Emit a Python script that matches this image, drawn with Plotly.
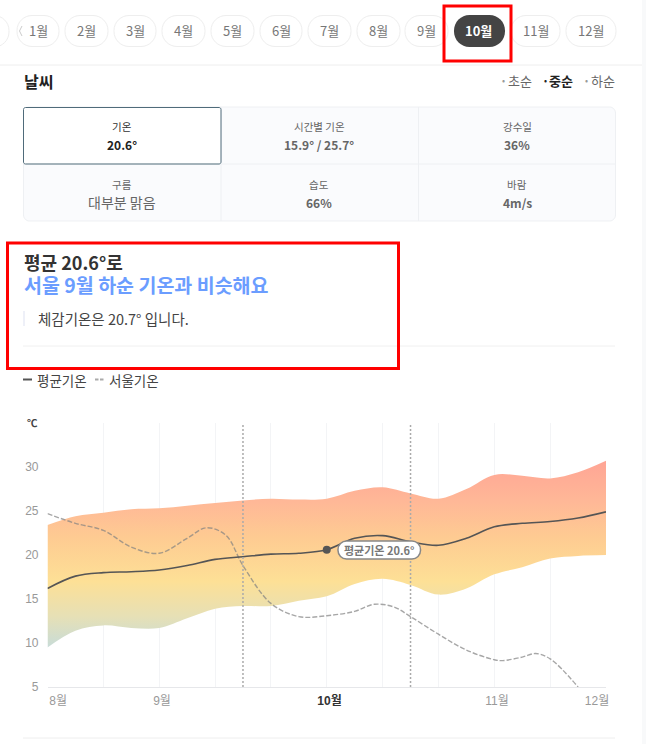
import plotly.graph_objects as go

FONT = "Noto Sans CJK KR"
NUM_FONT = "Liberation Sans, Noto Sans CJK KR"
W, H = 646, 744

# chart data, x is in half month-steps
x_half = [0, 0.5, 1, 1.5, 2, 2.5, 3, 3.5, 4, 4.5, 5, 5.5, 6, 6.5, 7, 7.5, 8, 8.5, 9, 9.5, 10]
temp_high = [23.4, 24.4, 24.8, 25.2, 25.3, 25.6, 25.9, 26.2, 26.4, 26.3, 26.4, 27.3, 27.7, 27.0, 26.4, 27.5, 29.1, 29.0, 28.7, 29.4, 30.7]
temp_low = [9.5, 11.4, 12.0, 11.7, 11.7, 12.8, 13.9, 14.2, 14.2, 14.8, 15.3, 16.7, 17.3, 16.6, 15.5, 16.2, 17.8, 18.6, 19.6, 19.9, 20.0]
temp_avg = [16.2, 17.6, 18.0, 18.1, 18.3, 18.8, 19.5, 19.8, 20.1, 20.2, 20.6, 21.9, 22.2, 21.5, 21.1, 21.9, 23.2, 23.6, 23.8, 24.2, 24.9]

x_seoul = [0, 0.5, 1, 1.5, 2, 2.5, 2.85, 3.2, 3.5, 4, 4.5, 5, 5.5, 5.85, 6.2, 6.5, 7, 7.5, 8, 8.15, 8.5, 8.74, 9, 9.5]
temp_seoul = [24.7, 23.6, 22.8, 20.9, 20.2, 21.9, 23.1, 22.2, 18.8, 14.5, 13.0, 13.1, 13.6, 14.4, 14.1, 13.0, 11.0, 9.2, 8.1, 8.0, 8.4, 8.8, 8.2, 5.0]

current_x = [5]
current_temp = [20.6]
range_lines = [3.5, 6.5]

y_ticks = [5, 10, 15, 20, 25, 30]
month_ticks = [0.19, 2.05, 5.05, 8.05, 9.84]
month_labels = ["8월", "9월", '<b><span style="color:#333">10월</span></b>', "11월", "12월"]

# page texts
pill_labels = ["1월", "2월", "3월", "4월", "5월", "6월", "7월", "8월", "9월", "10월", "11월", "12월"]
pill_left = [17, 65, 114, 162, 211, 260, 308, 357, 405, 454, 511, 566]
pill_right = [59, 108, 156, 205, 254, 302, 351, 400, 448, 505, 560, 616]
period_labels = ["초순", "중순", "하순"]
cell_titles = ["기온", "시간별 기온", "강수일", "구름", "습도", "바람"]
cell_values = ["20.6°", "15.9° / 25.7°", "36%", "대부분 맑음", "66%", "4m/s"]


def fx(x):
    return x / W


def fy(y):
    return 1 - y / H


def rounded(x0, y0, x1, y1, r):
    # rounded box as svg path, in paper units
    k = 0.45 * r
    p = [
        ("M", x0 + r, y0), ("L", x1 - r, y0),
        ("C", x1 - k, y0, x1, y0 + k, x1, y0 + r),
        ("L", x1, y1 - r),
        ("C", x1, y1 - k, x1 - k, y1, x1 - r, y1),
        ("L", x0 + r, y1),
        ("C", x0 + k, y1, x0, y1 - k, x0, y1 - r),
        ("L", x0, y0 + r),
        ("C", x0, y0 + k, x0 + k, y0, x0 + r, y0),
    ]
    out = ""
    for seg in p:
        vals = seg[1:]
        pts = [f"{fx(vals[i]):.5f},{fy(vals[i + 1]):.5f}" for i in range(0, len(vals), 2)]
        out += seg[0] + " ".join(pts) + " "
    return out + "Z"


shapes = []
annotations = []


def box(x0, y0, x1, y1, fill=None, line=None, width=1, r=0):
    s = dict(xref="paper", yref="paper", line=dict(color=line or "rgba(0,0,0,0)", width=width if line else 0))
    if fill:
        s["fillcolor"] = fill
    if r:
        s.update(type="path", path=rounded(x0, y0, x1, y1, r))
    else:
        s.update(type="rect", x0=fx(x0), x1=fx(x1), y0=fy(y0), y1=fy(y1))
    shapes.append(s)


def seg(x0, y0, x1, y1, color, width=1, dash="solid"):
    shapes.append(dict(type="line", xref="paper", yref="paper", x0=fx(x0), x1=fx(x1), y0=fy(y0), y1=fy(y1),
                       line=dict(color=color, width=width, dash=dash)))


def label(x, y, text, size=12, color="#333", anchor="center", family=FONT, bold=False):
    annotations.append(dict(xref="paper", yref="paper", x=fx(x), y=fy(y), text=f"<b>{text}</b>" if bold else text,
                            showarrow=False, xanchor=anchor, yanchor="middle", align="left",
                            font=dict(size=size, color=color, family=family)))


# month pills
box(-20, 15.5, 9, 47, fill="#ffffff", line="#eeeeee", r=15)
for i, name in enumerate(pill_labels):
    x0, x1 = pill_left[i], pill_right[i]
    if name == "10월":
        box(x0, 15, x1, 47, fill="#444444", r=15.5)
        label((x0 + x1) / 2 - 1, 31, name, 13, "#ffffff", bold=True)
    else:
        box(x0, 15.5, x1, 46.5, fill="#ffffff", line="#eeeeee", r=15)
        label((x0 + x1) / 2, 31, name, 13, "#777777")
seg(22, 26, 19.5, 31, "#cccccc", 1)
seg(19.5, 31, 22, 36, "#cccccc", 1)
seg(0, 65, 642, 65, "#eeeeee", 1)
box(642, 0, 646, H, fill="#f8f9fa")

# weather head
label(21.5, 81, "날씨", 16, "#222222", "left", bold=True)
for x_dot, x_txt, name in zip([503, 545, 586], [520, 561, 603], period_labels):
    on = name == "중순"
    label(x_dot, 80, "•", 9, "#222222" if on else "#999999")
    label(x_txt, 80, name, 13, "#222222" if on else "#666666", bold=on)

# table
box(23.5, 107, 615.5, 221, fill="#fafbfd", line="#eef0f3", r=6)
seg(221, 107, 221, 221, "#eef0f3")
seg(418.5, 107, 418.5, 221, "#eef0f3")
seg(23.5, 164, 615.5, 164, "#eef0f3")
box(23.5, 107.5, 221, 164, fill="#ffffff", line="#4f6b7a", r=2)
cols = [122, 319, 517]
for i in range(6):
    cx = cols[i % 3]
    top = 127 if i < 3 else 184
    label(cx, top, cell_titles[i], 10.5, "#333333" if i == 0 else "#666666")
    if i == 0:
        val_color = "#222222"
    else:
        val_color = "#666666"
    if i == 3:
        label(cx, top + 18, cell_values[i], 14, val_color)
    else:
        label(cx, top + 18, cell_values[i], 12, val_color, bold=True)

# summary block, one note so the two lines keep their spacing
label(
    21.5, 273.5,
    '평균 20.6°로<br><span style="color:#6b9dff;font-size:19.5px">서울 9월 하순 기온과 비슷해요</span>',
    18, "#333333", "left", bold=True,
)
box(23, 311, 25, 326, fill="#eef0f8")
label(35.5, 319, "체감기온은 20.7° 입니다.", 14.5, "#444444", "left")
seg(23, 346, 615, 346, "#f0f0f0")

# line legend
seg(23, 379.5, 32, 379.5, "#555555", 2)
label(34.5, 379.5, "평균기온", 13.5, "#444444", "left")
seg(95, 379.5, 104, 379.5, "#aaaaaa", 2, "3.5px,1.5px")
label(106.5, 379.5, "서울기온", 13.5, "#444444", "left")

# chart extras
label(39.5, 422, "℃", 10.5, "#444444", "right", bold=True)
seg(23, 738, 615, 738, "#eeeeee")

for v in range_lines:
    shapes.append(dict(type="line", xref="x", yref="paper", x0=v, x1=v, y0=fy(687), y1=fy(423),
                       line=dict(color="#aaaaaa", width=1.5, dash="2px,2px")))

box(338, 541, 420.5, 559, fill="#ffffff", line="#888888", width=1.5, r=8.5)
label(379, 550, "평균기온 20.6°", 11, "#777777", bold=True)
# the red marker boxes go on top of everything
box(444, 6, 511, 61, line="#ff0000", width=3)
box(7.5, 243, 398.5, 368.5, line="#ff0000", width=3)

fig = go.Figure()
fig.add_trace(go.Scatter(x=x_half, y=temp_low, mode="lines", line=dict(width=0, shape="spline"),
                         showlegend=False, hoverinfo="skip"))
fig.add_trace(go.Scatter(
    x=x_half, y=temp_high, mode="lines", line=dict(width=0, shape="spline"),
    fill="tonexty", showlegend=False, hoverinfo="skip",
    fillgradient=dict(type="vertical", colorscale=[
        [0, "#c8dcd8"], [0.165, "#e6e0b6"], [0.354, "#fde096"],
        [0.59, "#fecb92"], [0.778, "#ffb897"], [1, "#ffa595"],
    ]),
))
fig.add_trace(go.Scatter(x=x_seoul, y=temp_seoul, mode="lines", name="서울기온",
                         line=dict(color="rgba(130,130,130,0.7)", width=1.4, dash="5px,2px", shape="spline"),
                         showlegend=False))
fig.add_trace(go.Scatter(x=x_half, y=temp_avg, mode="lines", name="평균기온",
                         line=dict(color="#555555", width=1.6, shape="spline"), showlegend=False))
fig.add_trace(go.Scatter(x=current_x, y=current_temp, mode="markers",
                         marker=dict(color="#555555", size=8), showlegend=False))

fig.update_layout(
    width=W, height=H,
    margin=dict(l=0, r=0, t=0, b=0, autoexpand=False),
    paper_bgcolor="#ffffff", plot_bgcolor="#ffffff",
    font=dict(family=NUM_FONT),
    showlegend=False,
    shapes=shapes,
    annotations=annotations,
    xaxis=dict(
        domain=[fx(47.5), fx(606)], range=[0, 10], fixedrange=True,
        tickmode="array", tickvals=month_ticks, ticktext=month_labels, ticks="",
        ticklabelstandoff=3,
        tickfont=dict(size=12, color="#999999", family=NUM_FONT),
        showgrid=False, zeroline=False, showline=True, linecolor="#e6e7ea", linewidth=1,
        minor=dict(tick0=0, dtick=1, showgrid=True, gridcolor="#f3f4f6", gridwidth=1, ticks=""),
    ),
    yaxis=dict(
        domain=[fy(687), fy(423)], range=[5, 35], fixedrange=True,
        tickmode="array", tickvals=y_ticks, ticks="",
        ticklabelstandoff=8,
        tickfont=dict(size=12, color="#999999", family=NUM_FONT),
        showgrid=False, zeroline=False, showline=False,
    ),
)

fig.write_html("out.html", config={"displayModeBar": False},
               post_script="document.body.style.margin='0';document.body.style.overflow='hidden';")
